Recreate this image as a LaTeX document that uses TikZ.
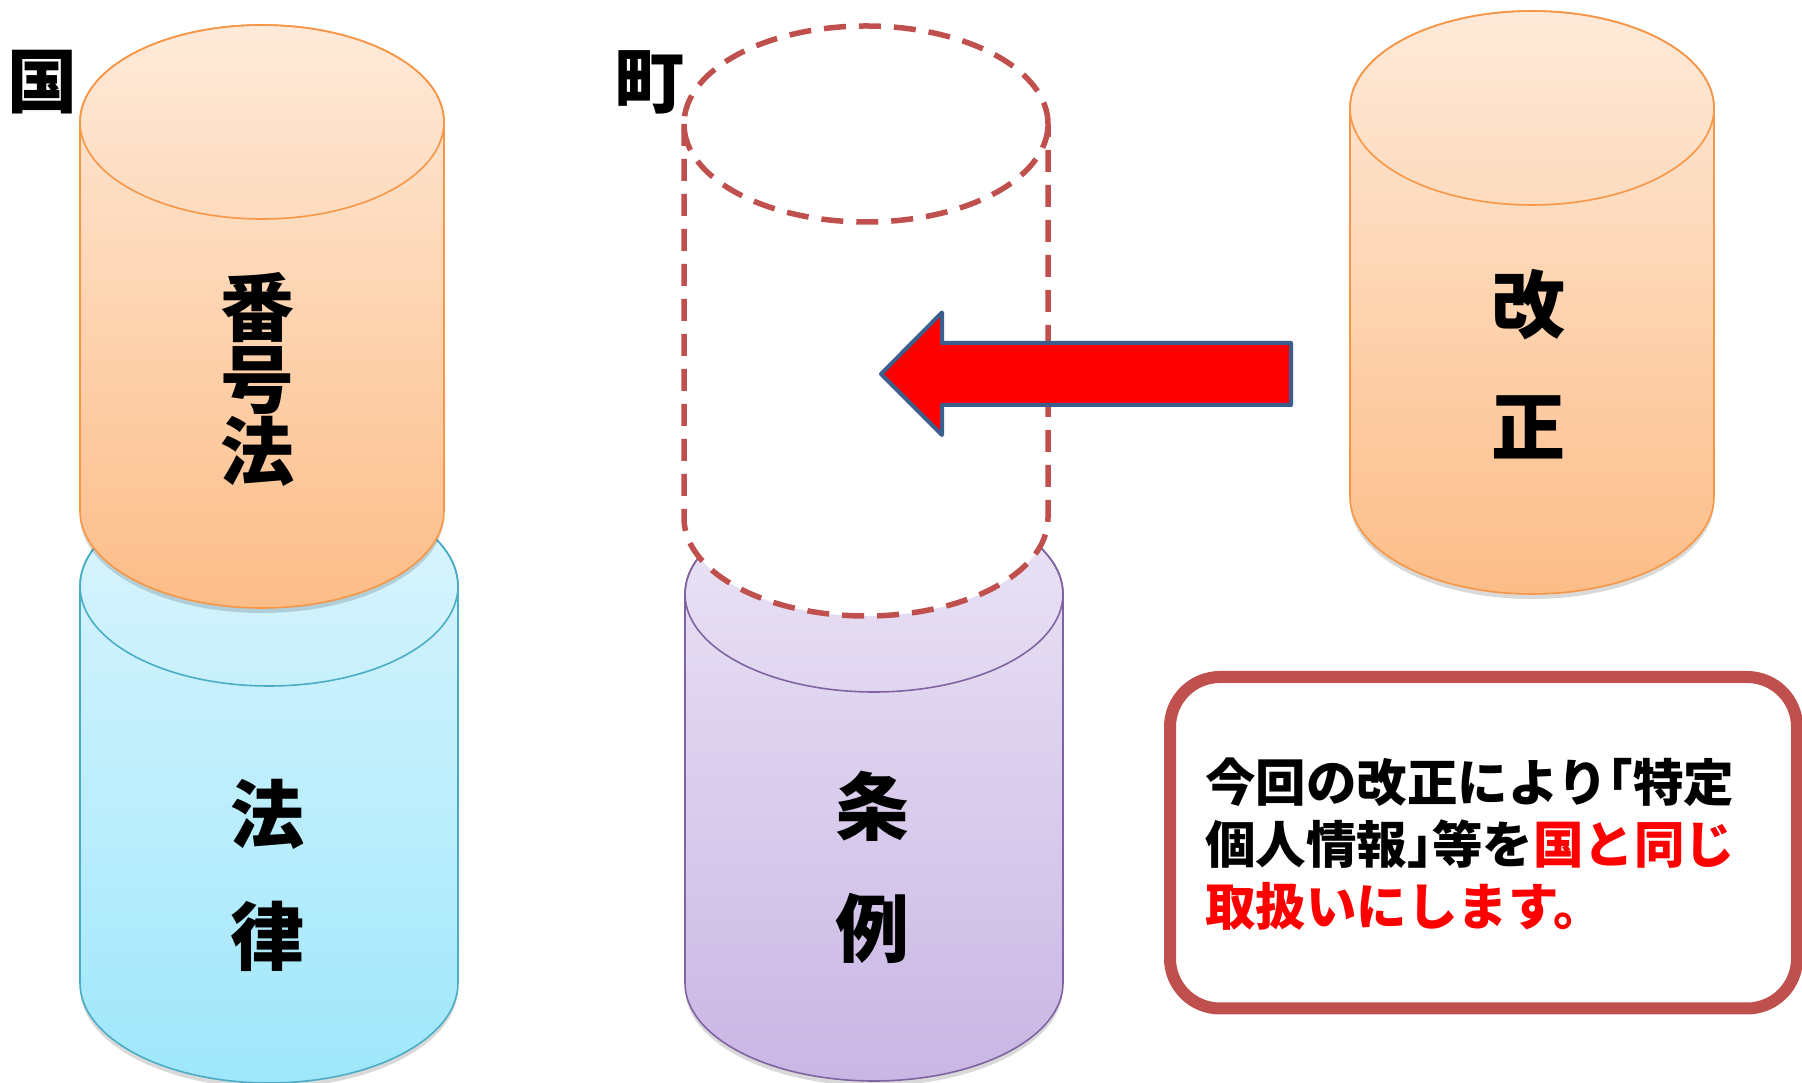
\documentclass[tikz,border=0pt]{standalone}
\usepackage{fontspec}
\newfontfamily\jp{Noto Sans CJK JP}
\definecolor{orTop}{HTML}{FEEAD9}
\definecolor{orBot}{HTML}{FCBD88}
\definecolor{orLine}{HTML}{F79646}
\definecolor{blTop}{HTML}{DCF5FD}
\definecolor{blBot}{HTML}{9FE7FB}
\definecolor{blLine}{HTML}{4BACC6}
\definecolor{puTop}{HTML}{EBE5F6}
\definecolor{puBot}{HTML}{C9B6E4}
\definecolor{puLine}{HTML}{8064A2}
\definecolor{acRed}{HTML}{C0504D}
\definecolor{arLine}{HTML}{3B5E8C}
\newcommand\drawcyl[8]{%
  \fill[black,opacity=0.15] ({#1-#4},{#2-5}) -- ({#1-#4},{#3-5}) arc[start angle=180,end angle=360,x radius=#4,y radius=#5] -- ({#1+#4},{#2-5}) -- cycle;
  \path[draw=#8,line width=1.6,top color=#6,bottom color=#7] ({#1-#4},#2) -- ({#1-#4},#3) arc[start angle=180,end angle=360,x radius=#4,y radius=#5] -- ({#1+#4},#2) arc[start angle=0,end angle=180,x radius=#4,y radius=#5] -- cycle;
  \draw[#8,line width=1.6] (#1,#2) ellipse[x radius=#4,y radius=#5];
}
\newcommand\hw[1]{{\addfontfeatures{RawFeature=+halt}#1}}
\tikzset{
  lab/.style={inner sep=0pt,align=center,font=\jp\bfseries\fontsize{74}{72}\selectfont},
  labwide/.style={inner sep=0pt,align=center,font=\jp\bfseries\fontsize{74}{122}\selectfont},
  corner/.style={inner sep=0pt,font=\jp\bfseries\fontsize{70}{70}\selectfont},
  dashline/.style={acRed,line width=5.5,dash pattern=on 22pt off 13pt},
}
\begin{document}
\begin{tikzpicture}[x=1pt,y=1pt]
\useasboundingbox (0,0) rectangle (1802,1083);
\fill[white] (0,0) rectangle (1802,1083);
\clip (0,0) rectangle (1802,1083);
% left stack
\drawcyl{269}{497}{100}{189}{100}{blTop}{blBot}{blLine}
\drawcyl{262}{961}{572}{182}{97}{orTop}{orBot}{orLine}
% middle stack
\drawcyl{874}{489}{100}{189}{98}{puTop}{puBot}{puLine}
\path[fill=white] (684,959) -- (684,565) arc[start angle=180,end angle=360,x radius=182,y radius=98] -- (1048,959) arc[start angle=0,end angle=180,x radius=182,y radius=98] -- cycle;
\draw[dashline] (684,959) -- (684,565) arc[start angle=180,end angle=360,x radius=182,y radius=98] -- (1048,959);
\draw[dashline] (866,959) ellipse[x radius=182,y radius=98];
% right cylinder
\drawcyl{1532}{975}{586}{182}{97}{orTop}{orBot}{orLine}
% arrow
\draw[fill=red,draw=arLine,line width=4,line join=round] (881,709) -- (942,770.5) -- (942,740) -- (1291,740) -- (1291,678) -- (942,678) -- (942,648) -- cycle;
% labels
\node[corner] (kuni) at (42.5,1001) {国};
\node[corner] (machi) at (649,1001) {町};
\node[lab] (bango) at (257,703) {番\\号\\法};
\node[labwide] (horitsu) at (267,207.5) {法\\律};
\node[labwide] (jorei) at (872,215.5) {条\\例};
\node[labwide] (kaisei) at (1528,718.5) {改\\正};
% message box
\draw[acRed,line width=12,rounded corners=50,fill=white] (1170,74.5) rectangle (1797,406);
\node[anchor=west,align=left,inner sep=0pt,font=\jp\bfseries\fontsize{50.5}{62}\selectfont] (msg) at (1205,239)
  {今回の改正により\hw{「}特定\\個人情報\hw{」}等を\textcolor{red}{国と同じ}\\\textcolor{red}{取扱いにします。}};
\end{tikzpicture}
\end{document}
